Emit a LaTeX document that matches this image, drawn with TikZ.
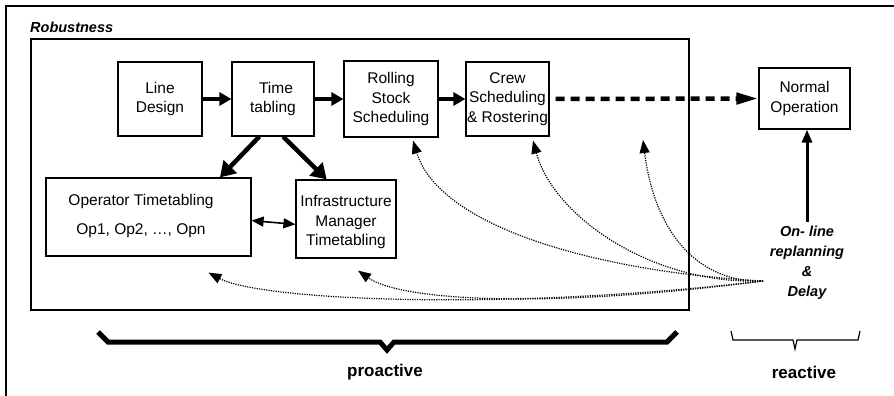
\documentclass[tikz,border=0pt]{standalone}
\usepackage{fontspec}
\setmainfont{Liberation Sans}
\usetikzlibrary{arrows.meta,calc}
\newcommand\boxfont{\fontsize{15.5}{19.5}\selectfont}
\newcommand\tagfont{\fontsize{14.5}{20}\selectfont\bfseries\itshape}
\newcommand\phasefont{\fontsize{17}{20}\selectfont\bfseries}
\begin{document}
\begin{tikzpicture}[x=1pt,y=-1pt,
  box/.style={draw, line width=1.2pt, align=center, inner sep=0pt, font=\boxfont},
  txt/.style={inner sep=0pt, align=center, font=\boxfont},
  flow/.style={line width=4.5pt, -{Triangle[length=12pt,width=13pt]}},
  split/.style={line width=4.5pt, -{Triangle[length=15pt,width=18pt]}},
  handover/.style={line width=4.5pt, dash pattern=on 9pt off 6pt, shorten <=6pt,
    -{Triangle[length=22pt,width=11pt]}},
  feedback/.style={line width=1.2pt, dash pattern=on 1.2pt off 1.2pt,
    -{Triangle[length=13pt,width=10pt]}},
  bracebar/.style={line width=5pt, line join=miter},
]
\useasboundingbox (0,0) rectangle (894,396);

% outer frame (runs off the page on the right and bottom)
\draw[line width=1.8pt] (6,396) -- (6,6) -- (894,6);

% robustness area
\node[draw, line width=1.1pt, minimum width=658pt, minimum height=271pt, inner sep=0pt]
  (rob) at (360,174.5) {};
\node[anchor=base west, inner sep=0pt, font=\tagfont] (robl) at (30,32.3) {Robustness};

% planning chain
\node[box, minimum width=84pt, minimum height=74pt] (ld) at (160,99) {Line\\Design};
\node[box, minimum width=82pt, minimum height=74pt] (tt) at (273,99) {\hspace*{6pt}Time\\tabling};
\node[box, minimum width=94pt, minimum height=76pt] (rs) at (391,99) {Rolling\\Stock\\Scheduling};
\node[box, minimum width=83pt, minimum height=74pt] (cs) at (507.5,99) {Crew\\Scheduling\\\& Rostering};
\node[box, minimum width=91pt, minimum height=61pt] (no) at (804.5,98.5) {Normal\\Operation};

% timetabling boxes
\node[box, minimum width=205pt, minimum height=78pt] (op) at (148.5,217) {};
\node[txt] (opa) at (141,201) {Operator Timetabling};
\node[txt] (opb) at (141,231) {Op1, Op2, …, Opn};
\node[box, minimum width=100pt, minimum height=78pt] (im) at (346,219) {};
\node[txt] (imt) at (346,222) {Infrastructure\\Manager\\Timetabling};

% on-line replanning
\node[anchor=north, inner xsep=0pt, inner ysep=4pt, align=center, font=\tagfont]
  (ol) at (807,222) {On- line\\replanning\\\&\\Delay};
\coordinate (src) at (763,281);
\coordinate (free) at (643,140);

% solid flows
\draw[flow] (ld.east) -- (tt.west);
\draw[flow] (tt.east) -- (rs.west);
\draw[flow] (rs.east) -- (cs.west);
\draw[handover] (cs.east) -- (no.west);
\draw[split] (tt.250.6) -- (op.29.7);
\draw[split] (tt.285.1) -- (im.116);
\draw[line width=1.6pt, {Triangle[length=12pt,width=10pt]}-{Triangle[length=12pt,width=10pt]}]
  (op.-2.8) -- (im.-174);
\draw[line width=3pt, -{Triangle[length=13pt,width=10pt]}] (ol.north) -- (ol.north |- no.south);

% feedback from on-line replanning
\draw[feedback] (src) .. controls (600,272) and (440,228) .. ($(rs.south)+(22,3)$);
\draw[feedback] (src) .. controls (650,285) and (553,215) .. ($(cs.south)+(25.5,4)$);
\draw[feedback] (src) .. controls (700,283) and (655,235) .. (free);
\draw[feedback] (src) .. controls (500,312) and (260,300) .. ($(op.south west)+(163,16)$);
\draw[feedback] (src) .. controls (540,310) and (400,300) .. ($(im.south)+(12,12)$);

% phase braces
\draw[bracebar] (98,332) -- (108,342) -- (380,342) -- (387,350) -- (394,342)
  -- (667,342) -- (677,332);
\node[font=\phasefont, inner sep=0pt] (pro) at (385,372) {proactive};
\draw[line width=1.2pt] (731,331) -- (733,340) -- (793,340) -- (795,349) -- (797,340)
  -- (858,340) -- (860,331);
\node[font=\phasefont, inner sep=0pt] (rea) at (804,372) {reactive};
\end{tikzpicture}
\end{document}
